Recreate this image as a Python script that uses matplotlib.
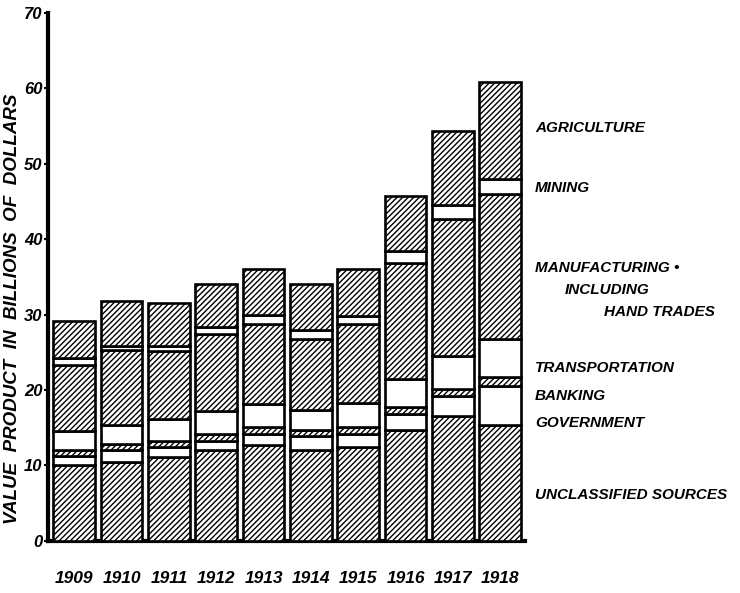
import matplotlib
matplotlib.use('Agg')
import matplotlib.pyplot as plt
import numpy as np

# Value product by source, billions of dollars
years = ['1909', '1910', '1911', '1912', '1913', '1914', '1915', '1916', '1917', '1918']
unclassified = [10.1, 10.5, 11.1, 12.0, 12.7, 12.0, 12.4, 14.7, 16.6, 15.4]
government = [1.2, 1.5, 1.3, 1.3, 1.5, 1.9, 1.8, 2.1, 2.6, 5.2]
banking = [0.7, 0.8, 0.8, 0.9, 0.9, 0.8, 0.9, 0.9, 1.0, 1.1]
transportation = [2.5, 2.6, 2.9, 3.0, 3.0, 2.7, 3.2, 3.8, 4.3, 5.1]
manufacturing = [8.8, 9.9, 9.1, 10.2, 10.7, 9.4, 10.4, 15.4, 18.2, 19.2]
mining = [1.0, 0.6, 0.7, 0.9, 1.2, 1.1, 1.1, 1.5, 1.8, 2.0]
agriculture = [4.8, 5.9, 5.6, 5.7, 6.0, 6.2, 6.2, 7.3, 9.8, 12.8]
y_ticks = [0, 10, 20, 30, 40, 50, 60, 70]

# bottom -> top, with hatched (True) or plain white (False) fill
layers = [
    (unclassified, True),
    (government, False),
    (banking, True),
    (transportation, False),
    (manufacturing, True),
    (mining, False),
    (agriculture, True),
]

plt.rcParams['hatch.linewidth'] = 1.0
plt.rcParams['hatch.color'] = 'black'

fig = plt.figure(figsize=(7.4, 5.93), dpi=100)
fig.patch.set_facecolor('white')
ax = fig.add_axes([0.065, 0.088, 0.645, 0.89])

x = np.arange(len(years))
bottom = np.zeros(len(years))
for values, hatched in layers:
    ax.bar(x, values, bottom=bottom, width=0.88, color='white',
           edgecolor='black', linewidth=1.9,
           hatch='//////' if hatched else None, zorder=3)
    bottom += np.array(values)

ax.set_xlim(-0.55, 9.53)
ax.set_ylim(0, 70)

font = dict(family='Liberation Sans', style='italic', weight='bold')

ax.set_yticks(y_ticks)
ax.set_yticklabels([str(t) for t in y_ticks], fontsize=12, **font)
ax.set_xticks(x)
ax.set_xticklabels(years, fontsize=12.5, **font)
ax.tick_params(axis='y', length=3, width=1.5, pad=1)
ax.tick_params(axis='x', length=0, pad=22)

for side in ['top', 'right']:
    ax.spines[side].set_visible(False)
ax.spines['left'].set_linewidth(3)
ax.spines['bottom'].set_linewidth(3)

ax.set_ylabel('VALUE  PRODUCT  IN  BILLIONS  OF  DOLLARS', fontsize=13.5, **font)
ax.yaxis.set_label_coords(-0.056, 0.44)

# sector labels on the right
def label(txt, xp, yp):
    fig.text(xp / 740, 1 - yp / 593, txt, fontsize=11, va='center', ha='left', **font)

label('AGRICULTURE', 535, 128)
label('MINING', 535, 188)
label('MANUFACTURING \u2022', 535, 268)
label('INCLUDING', 565, 290)
label('HAND TRADES', 604, 312)
label('TRANSPORTATION', 535, 368)
label('BANKING', 535, 396)
label('GOVERNMENT', 535, 423)
label('UNCLASSIFIED SOURCES', 535, 495)

fig.savefig('out.png', dpi=100, facecolor='white')
